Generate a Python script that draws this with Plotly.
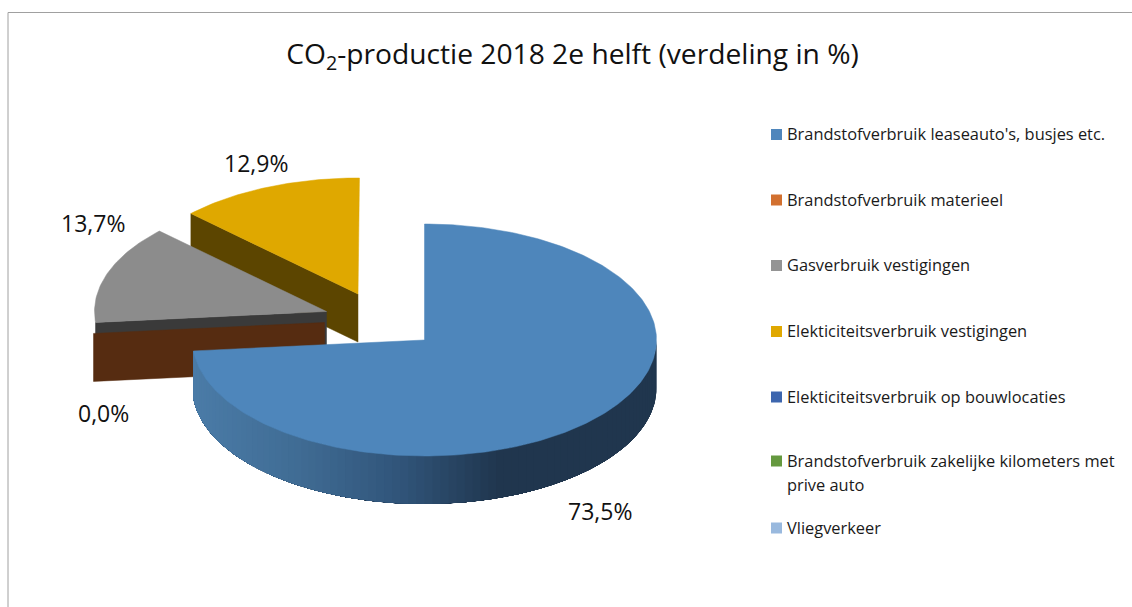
import numpy as np
import plotly.graph_objects as go

TITLE = "CO<sub>2</sub>-productie 2018 2e helft (verdeling in %)"
categories = [
    "Brandstofverbruik leaseauto's, busjes etc.",
    "Brandstofverbruik materieel",
    "Gasverbruik vestigingen",
    "Elekticiteitsverbruik vestigingen",
    "Elekticiteitsverbruik op bouwlocaties",
    "Brandstofverbruik zakelijke kilometers met<br>prive auto",
    "Vliegverkeer",
]
values = [73.5, 0.0, 13.7, 12.9, 0.0, 0.0, 0.0]
legend_colors = ["#4F86BC", "#D2702F", "#949494", "#E0A800", "#3D66AE", "#65993F", "#99B9DE"]

W, H = 1132, 607
RX, RY, DEPTH = 232, 116, 48
FONT = "Open Sans"
LEGEND_LINE = 24

# slice centres after explosion (pixel layout)
centers = {0: (424.5, 340), 1: (324.5, 322.5), 2: (326.5, 311.5), 3: (358, 294)}
top_colors = {0: "#4E86BB", 2: "#8C8C8C", 3: "#DFA800"}
wall_colors = {1: "#562C11", 2: "#3A3A3A", 3: "#5C4500"}

cum = np.concatenate([[0], np.cumsum(values)]) * 3.6
start = cum[:-1]
end = cum[1:]


def rim(i, a):
    cx, cy = centers[i]
    r = np.radians(a)
    return cx + RX * np.sin(r), cy - RY * np.cos(r)


def arc(i, a0, a1):
    n = max(2, int(abs(a1 - a0)) + 2)
    return rim(i, np.linspace(a0, a1, n))


fig = go.Figure()


def poly(xs, ys, color, width=0.5):
    fig.add_trace(go.Scatter(
        x=list(xs), y=list(ys), mode="lines", fill="toself", fillcolor=color,
        line=dict(color=color, width=width), hoverinfo="skip", showlegend=False,
    ))


def top(i):
    x, y = arc(i, start[i], end[i])
    cx, cy = centers[i]
    poly([cx, *x, cx], [cy, *y, cy], top_colors[i])


def radial_wall(i, a, color):
    cx, cy = centers[i]
    x, y = rim(i, a)
    poly([cx, x, x, cx, cx], [cy, y, y + DEPTH, cy + DEPTH, cy], color)


# back-to-front drawing order
radial_wall(3, start[3], wall_colors[3])
top(3)
radial_wall(2, start[2], wall_colors[2])
top(2)
radial_wall(1, start[1], wall_colors[1])

# curved wall of the main slice, shaded left to right; each band is painted
# from its own angle to the end of the wall, so no seams appear between bands
shade_x = [193, 300, 400, 500, 656]
shade_rgb = np.array([[75, 124, 168], [64, 108, 148], [49, 85, 122], [32, 54, 78], [32, 54, 78]])
angles = np.arange(90, end[0], 2.0)
for a0 in angles:
    x, y = arc(0, a0, end[0])
    xm = rim(0, a0 + 1.0)[0]
    rgb = [int(np.interp(xm, shade_x, shade_rgb[:, k])) for k in range(3)]
    color = f"rgb({rgb[0]},{rgb[1]},{rgb[2]})"
    poly([*x, *x[::-1]], [*y, *(y[::-1] + DEPTH)], color, width=0)
top(0)

# legend keys
legend_y = [134.5, 200, 265.5, 331.5, 397, 461, 528]
fig.add_trace(go.Scatter(
    x=[776.5] * len(categories), y=legend_y, mode="markers",
    marker=dict(symbol="square", size=11, color=legend_colors, line=dict(width=0)),
    hoverinfo="skip", showlegend=False,
))

annotations = []
for name, ly in zip(categories, legend_y):
    for k, part in enumerate(name.split("<br>")):
        annotations.append(dict(
            x=785.5, y=ly - 1 + k * LEGEND_LINE, xref="x", yref="y", xanchor="left", yanchor="middle",
            align="left", text=part, showarrow=False,
            font=dict(family=FONT, size=16.4, color="#1a1a1a"), borderpad=0,
        ))

# data labels
label_idx = [0, 1, 2, 3]
label_xy = [(600, 511), (103, 412.5), (93, 222.5), (256, 162.5)]
for i, (lx, ly) in zip(label_idx, label_xy):
    annotations.append(dict(
        x=lx, y=ly, xref="x", yref="y", xanchor="center", yanchor="middle",
        text=f"{values[i]:.1f}%".replace(".", ","), showarrow=False,
        font=dict(family=FONT, size=23, color="#111111"),
    ))

fig.update_layout(
    width=W, height=H, margin=dict(l=0, r=0, t=0, b=0),
    paper_bgcolor="white", plot_bgcolor="white", showlegend=False,
    title=dict(text=TITLE, x=572.5 / W, xanchor="center", y=1 - 54 / H, yanchor="middle",
               font=dict(family=FONT, size=28.2, color="#111111")),
    xaxis=dict(range=[0, W], visible=False, fixedrange=True),
    yaxis=dict(range=[H, 0], visible=False, fixedrange=True),
    annotations=annotations,
    shapes=[dict(type="path", path="M 8 607 L 8 12.5 L 1132 12.5", xref="x", yref="y",
                 line=dict(color="#A0A0A0", width=1))],
)

fig.write_html("out.html", config={"displayModeBar": False},
               post_script="document.body.style.margin='0';document.documentElement.style.overflow='hidden';")
